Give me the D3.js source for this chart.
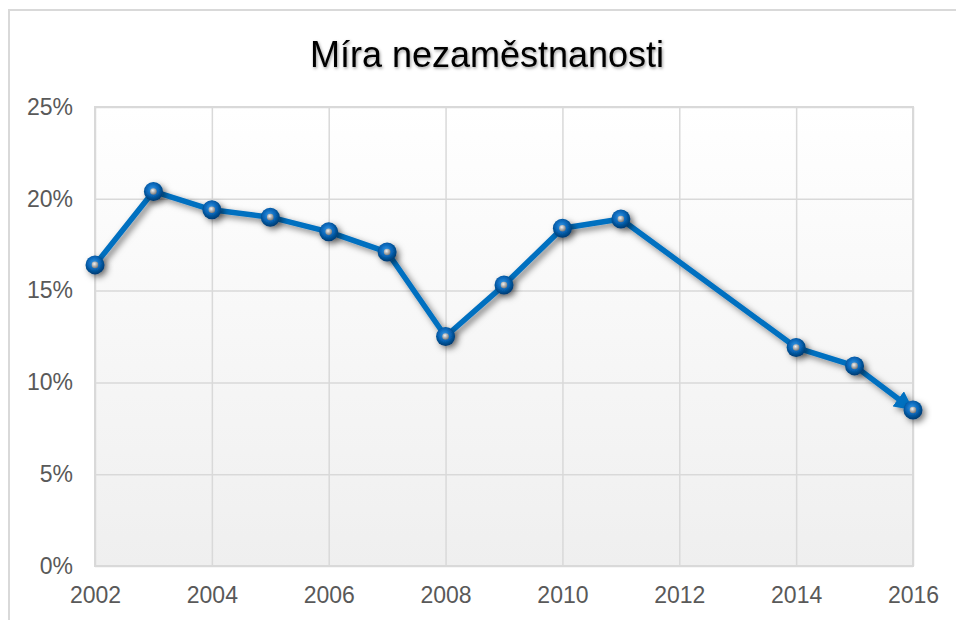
<!DOCTYPE html>
<html>
<head>
<meta charset="utf-8">
<script src="https://cdn.jsdelivr.net/npm/d3@7"></script>
<style>
  body { margin: 0; background: #fff; }
  svg { display: block; font-family: "Liberation Sans", Arial, sans-serif; }
  .tick text { fill: #595959; font-size: 23px; }
  .tick line { stroke: #d9d9d9; stroke-width: 1.5; }
</style>
</head>
<body>
<div id="chart"></div>
<script>
// values (2012 and 2013 have no point)
var years = [2002, 2003, 2004, 2005, 2006, 2007, 2008, 2009, 2010, 2011, 2014, 2015, 2016]
var rates = [0.164, 0.204, 0.194, 0.190, 0.182, 0.171, 0.125, 0.153, 0.184, 0.189, 0.119, 0.109, 0.085]
var xTicks = [2002, 2004, 2006, 2008, 2010, 2012, 2014, 2016]
var yTicks = [0, 0.05, 0.10, 0.15, 0.20, 0.25]
var title = 'Míra nezaměstnanosti'

var data = years.map(function(y, i){ return {year: y, rate: rates[i]} })

var W = 956, H = 620
var margin = {left: 95, top: 107, right: 43, bottom: 54}
var width = W - margin.left - margin.right
var height = H - margin.top - margin.bottom

var svg = d3.select('#chart').append('svg').attr('width', W).attr('height', H)
var defs = svg.append('defs')

var bg = defs.append('linearGradient').attr('id', 'plot-bg')
  .attr('x1', 0).attr('y1', 0).attr('x2', 0).attr('y2', 1)
bg.append('stop').attr('offset', '0%').attr('stop-color', '#ffffff')
bg.append('stop').attr('offset', '100%').attr('stop-color', '#efefef')

var dot = defs.append('radialGradient').attr('id', 'dot-blue')
  .attr('cx', '45%').attr('cy', '40%').attr('r', '60%')
dot.append('stop').attr('offset', '0%').attr('stop-color', '#3b97e4')
dot.append('stop').attr('offset', '50%').attr('stop-color', '#0868bb')
dot.append('stop').attr('offset', '100%').attr('stop-color', '#023a70')

var pin = defs.append('radialGradient').attr('id', 'dot-grey')
  .attr('cx', '40%').attr('cy', '35%').attr('r', '65%')
pin.append('stop').attr('offset', '0%').attr('stop-color', '#f2f2f2')
pin.append('stop').attr('offset', '100%').attr('stop-color', '#7a7a7a')

var shadow = defs.append('filter').attr('id', 'shadow')
  .attr('x', '-50%').attr('y', '-50%').attr('width', '200%').attr('height', '200%')
shadow.append('feDropShadow').attr('dx', 3).attr('dy', 3).attr('stdDeviation', 3)
  .attr('flood-color', '#000').attr('flood-opacity', 0.5)

var tshadow = defs.append('filter').attr('id', 'tshadow')
  .attr('x', '-10%').attr('y', '-30%').attr('width', '120%').attr('height', '160%')
tshadow.append('feDropShadow').attr('dx', 1).attr('dy', 1.5).attr('stdDeviation', 1.5)
  .attr('flood-color', '#000').attr('flood-opacity', 0.4)

defs.append('marker').attr('id', 'arrow')
  .attr('viewBox', '0 0 10 10').attr('refX', 5).attr('refY', 5)
  .attr('markerUnits', 'userSpaceOnUse')
  .attr('markerWidth', 19).attr('markerHeight', 19)
  .attr('orient', 'auto')
  .append('path').attr('d', 'M0,0 L10,5 L0,10 Z').attr('fill', '#0070c0')

// outer chart frame
svg.append('rect').attr('x', 9).attr('y', 10).attr('width', W).attr('height', H)
  .attr('fill', 'none').attr('stroke', '#d9d9d9').attr('stroke-width', 2)

svg.append('text').attr('x', 487).attr('y', 67).attr('text-anchor', 'middle')
  .attr('font-size', 36).attr('fill', '#000').attr('filter', 'url(#tshadow)')
  .text(title)

var g = svg.append('g').attr('transform', 'translate(' + margin.left + ',' + margin.top + ')')

var x = d3.scaleLinear().domain([2002, 2016]).range([0, width])
var y = d3.scaleLinear().domain([0, 0.25]).range([height, 0])

g.append('rect').attr('width', width).attr('height', height).attr('fill', 'url(#plot-bg)')

var yAxis = d3.axisLeft(y).tickValues(yTicks).tickFormat(d3.format('.0%'))
  .tickSizeInner(-width).tickSizeOuter(0).tickPadding(22)
var xAxis = d3.axisBottom(x).tickValues(xTicks).tickFormat(d3.format('d'))
  .tickSizeInner(-height).tickSizeOuter(0).tickPadding(21)

g.append('g').call(yAxis).call(function(s){ s.select('.domain').remove() })
g.append('g').attr('transform', 'translate(0,' + height + ')').call(xAxis)
  .call(function(s){ s.select('.domain').remove() })
g.selectAll('.tick text').attr('font-family', null).attr('font-size', null)

g.append('rect').attr('width', width).attr('height', height)
  .attr('fill', 'none').attr('stroke', '#d9d9d9').attr('stroke-width', 2)

// line, ending with an arrow just before the last point
var last = data[data.length - 1], prev = data[data.length - 2]
var dx = x(last.year) - x(prev.year), dy = y(last.rate) - y(prev.rate)
var len = Math.sqrt(dx * dx + dy * dy), cut = 9
var lineData = data.slice(0, -1).map(function(d){ return [x(d.year), y(d.rate)] })
lineData.push([x(last.year) - dx / len * cut, y(last.rate) - dy / len * cut])

g.append('path').attr('d', d3.line()(lineData))
  .attr('fill', 'none').attr('stroke', '#0070c0').attr('stroke-width', 5.5)
  .attr('stroke-linejoin', 'round').attr('stroke-linecap', 'round')
  .attr('marker-end', 'url(#arrow)').attr('filter', 'url(#shadow)')

var pts = g.selectAll('.pt').data(data).join('g').attr('class', 'pt')
  .attr('transform', function(d){ return 'translate(' + x(d.year) + ',' + y(d.rate) + ')' })
pts.append('circle').attr('r', 9.5).attr('fill', 'url(#dot-blue)').attr('filter', 'url(#shadow)')
pts.append('circle').attr('r', 3.3).attr('fill', 'url(#dot-grey)')
</script>
</body>
</html>
